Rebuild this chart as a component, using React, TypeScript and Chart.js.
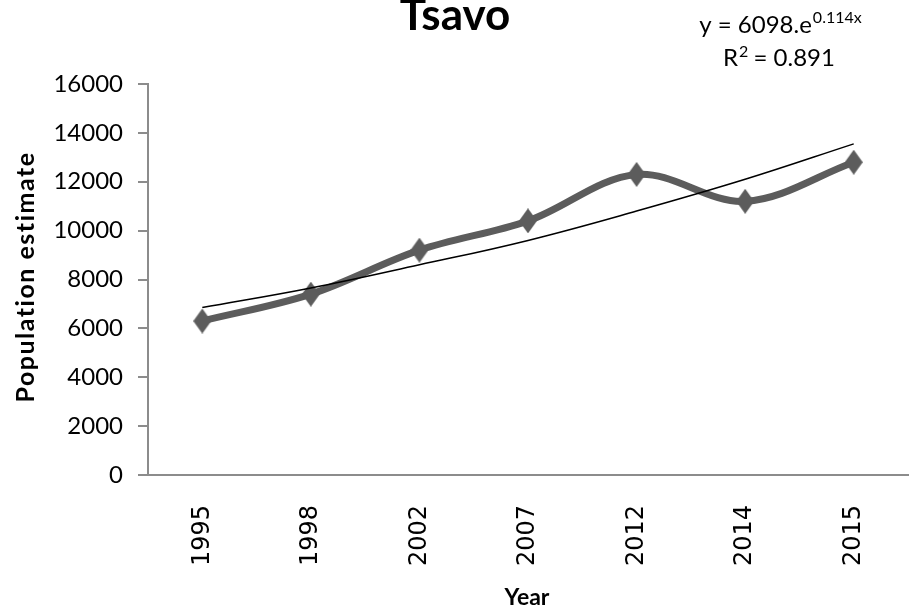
import React, { useEffect, useRef } from 'react';
import { Chart, registerables } from 'chart.js';

Chart.register(...registerables);

const chartTitle = 'Tsavo';
const xAxisTitle = 'Year';
const yAxisTitle = 'Population estimate';
const years = ['1995', '1998', '2002', '2007', '2012', '2014', '2015'];
const population = [6300, 7400, 9200, 10400, 12300, 11200, 12800];
const trendline = [6850, 7650, 8600, 9600, 10800, 12100, 13550];
const yMin = 0;
const yMax = 16000;
const yStep = 2000;
const equationMain = 'y = 6098.e';
const equationSup = '0.114x';
const r2Label = 'R';
const r2Sup = '2';
const r2Value = ' = 0.891';

function makeDiamond(): HTMLCanvasElement {
  const c = document.createElement('canvas');
  c.width = 18;
  c.height = 25;
  const g = c.getContext('2d')!;
  g.fillStyle = '#5c5c5c';
  g.beginPath();
  g.moveTo(9, 0);
  g.lineTo(18, 12.5);
  g.lineTo(9, 25);
  g.lineTo(0, 12.5);
  g.closePath();
  g.fill();
  return c;
}

const textPlugin = {
  id: 'textPlugin',
  afterDraw(chart: any) {
    const ctx = chart.ctx as CanvasRenderingContext2D;
    ctx.save();
    ctx.fillStyle = '#000';
    ctx.textBaseline = 'alphabetic';
    ctx.textAlign = 'center';
    ctx.font = 'bold 44px Lato';
    ctx.fillText(chartTitle, 455, 30);

    // x axis title
    ctx.font = 'bold 23px Lato';
    ctx.fillText(xAxisTitle, 527, 605);

    // y axis title (rotated)
    ctx.save();
    ctx.translate(34, 277);
    ctx.rotate(-Math.PI / 2);
    ctx.font = 'bold 25px Lato';
    (ctx as any).letterSpacing = '1.5px';
    ctx.fillText(yAxisTitle, 0, 0);
    ctx.restore();

    // trendline equation
    ctx.textAlign = 'left';
    ctx.font = '24px Lato';
    const w1 = ctx.measureText(equationMain).width;
    ctx.font = '16px Lato';
    const w2 = ctx.measureText(equationSup).width;
    let x = 780 - (w1 + w2) / 2;
    ctx.font = '24px Lato';
    ctx.fillText(equationMain, x, 33);
    ctx.font = '16px Lato';
    ctx.fillText(equationSup, x + w1 + 1, 23);

    ctx.font = '24px Lato';
    const a = ctx.measureText(r2Label).width;
    const c = ctx.measureText(r2Value).width;
    ctx.font = '16px Lato';
    const b = ctx.measureText(r2Sup).width;
    x = 779 - (a + b + c) / 2;
    ctx.font = '24px Lato';
    ctx.fillText(r2Label, x, 66);
    ctx.font = '16px Lato';
    ctx.fillText(r2Sup, x + a + 1, 57);
    ctx.font = '24px Lato';
    ctx.fillText(r2Value, x + a + b, 66);
    ctx.restore();
  },
};

export default function App() {
  const ref = useRef<HTMLCanvasElement>(null);
  useEffect(() => {
    if (!ref.current) return;
    const diamond = makeDiamond();
    const chart = new Chart(ref.current, {
      type: 'line',
      data: {
        labels: years,
        datasets: [
          {
            label: 'Trend',
            data: trendline,
            borderColor: '#000',
            borderWidth: 1.5,
            pointRadius: 0,
            tension: 0.4,
            fill: false,
          },
          {
            label: 'Population',
            data: population,
            borderColor: '#5c5c5c',
            borderWidth: 7,
            pointStyle: diamond as any,
            pointRadius: 10,
            tension: 0.35,
            fill: false,
          },
        ],
      },
      options: {
        responsive: false,
        animation: false,
        layout: { autoPadding: false, padding: { top: 84, right: 6, left: 0, bottom: 0 } },
        plugins: {
          legend: { display: false },
          tooltip: { enabled: false },
          title: { display: false },
        },
        scales: {
          x: {
            offset: true,
            grid: { display: false, drawTicks: false },
            border: { display: true, color: '#8c8c8c', width: 2 },
            ticks: {
              minRotation: 90,
              maxRotation: 90,
              padding: 30,
              color: '#000',
              font: { family: 'DejaVu Sans', size: 24 },
            },
            afterFit: (s: any) => {
              s.height = 138;
              s.paddingLeft = 0;
              s.paddingRight = 0;
            },
          },
          y: {
            min: yMin,
            max: yMax,
            ticks: {
              stepSize: yStep,
              padding: 15,
              color: '#000',
              font: { family: 'Lato', size: 24 },
              callback: (v: any) => String(v),
            },
            grid: {
              drawOnChartArea: false,
              drawTicks: true,
              tickLength: 10,
              color: '#8c8c8c',
              lineWidth: 2,
            },
            border: { color: '#8c8c8c', width: 2 },
            afterFit: (s: any) => {
              s.width = 148;
              s.paddingTop = 0;
              s.paddingBottom = 0;
            },
          },
        },
      },
      plugins: [textPlugin],
    });
    return () => chart.destroy();
  }, []);
  return (
    <div style={{ position: 'fixed', left: 0, top: 0, width: 914, height: 613, background: '#fff' }}>
      <canvas ref={ref} width={914} height={613} />
    </div>
  );
}
